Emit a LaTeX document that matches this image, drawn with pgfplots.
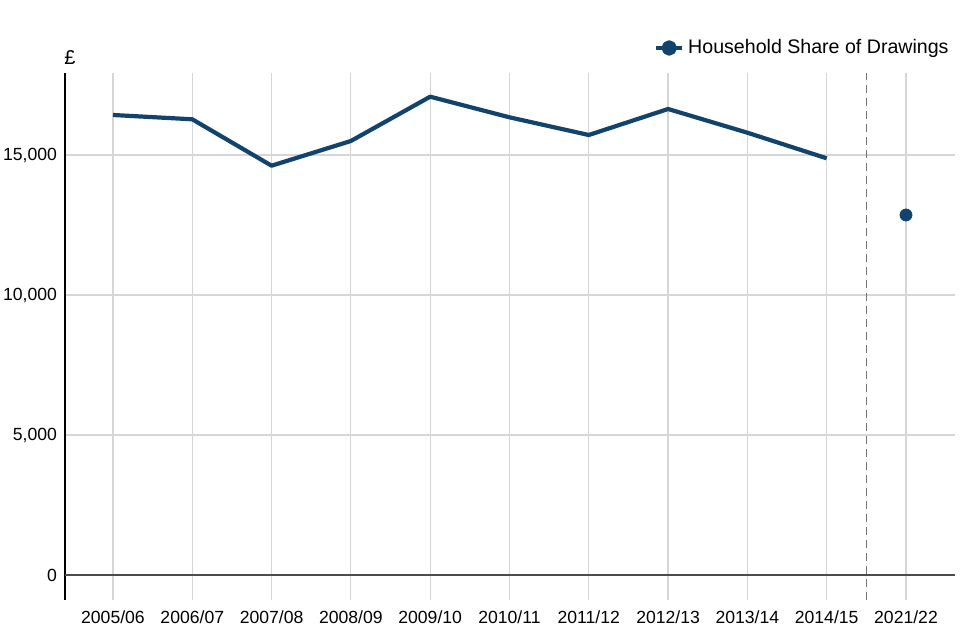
\documentclass[border=0pt]{standalone}
\usepackage{pgfplots}
\pgfplotsset{compat=1.18}
\usepackage{fontspec}
\setmainfont{Liberation Sans}
\definecolor{navy}{HTML}{12436D}
\definecolor{gridc}{HTML}{D6D6D6}
\begin{document}
\begin{tikzpicture}
\path[use as bounding box] (-32.5pt,-20pt) rectangle (447.5pt,300pt);
\begin{axis}[
  at={(0pt,0pt)}, anchor=south west,
  scale only axis, width=445pt, height=263.5pt,
  xmin=-0.605, xmax=10.618, ymin=-893, ymax=17929,
  axis y line*=left, axis x line*=bottom,
  x axis line style={draw=none},
  y axis line style={black, line width=0.6pt},
  xtick={0,1,2,3,4,5,6,7,8,9,10},
  xticklabels={2005/06,2006/07,2007/08,2008/09,2009/10,2010/11,2011/12,2012/13,2013/14,2014/15,2021/22},
  ytick={0,5000,10000,15000},
  major tick length=0pt,
  grid=major, major grid style={gridc, line width=0.6pt},
  tick label style={font=\fontsize{8.8}{10}\selectfont},
  xticklabel style={yshift=-2pt},
  yticklabel style={xshift=-0.5pt},
  /pgf/number format/assume math mode=true,
  /pgf/number format/1000 sep={,},
  scaled y ticks=false,
  legend style={at={(rel axis cs:1,1)}, anchor=south east, yshift=4pt, xshift=1pt,
    draw=none, fill=none, font=\fontsize{9.8}{11}\selectfont, inner sep=2pt},
  legend cell align=left,
  clip=false,
]
\addplot[black!55, line width=0.6pt, dash pattern=on 4pt off 2.5pt, forget plot] coordinates {(9.5,-893) (9.5,17929)};
\addplot[black!70, line width=0.7pt, forget plot] coordinates {(-0.605,0) (10.618,0)};
\addplot[navy, line width=2.1pt, line join=round,
  legend image code/.code={
    \draw[navy, line width=2pt] (-1.5pt,0pt) -- (11.5pt,0pt);
    \fill[navy] (5pt,0pt) circle (2.8pt);
  }] coordinates {
  (0,16429) (1,16275) (2,14618) (3,15500) (4,17082)
  (5,16346) (6,15714) (7,16643) (8,15796) (9,14882)
};
\addlegendentry{Household Share of Drawings}
\addplot[only marks, mark=*, mark size=3pt, navy, forget plot] coordinates {(10,12857)};
\node[anchor=south west, inner sep=0pt, font=\fontsize{10}{12}\selectfont] at (rel axis cs:0,1) [xshift=-0.5pt, yshift=4pt] {£};
\end{axis}
\end{tikzpicture}
\end{document}
